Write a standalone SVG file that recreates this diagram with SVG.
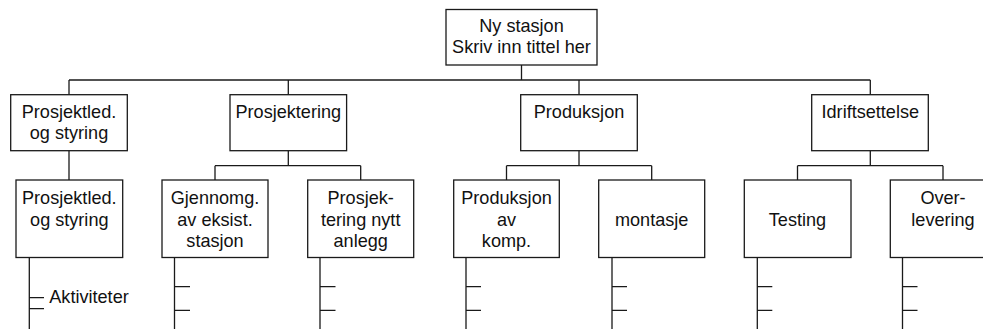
<svg xmlns="http://www.w3.org/2000/svg" width="983" height="329" viewBox="0 0 983 329">
<style>
.box{fill:#fff;stroke:#1a1a1a;stroke-width:1.3}
.ln{fill:none;stroke:#1a1a1a;stroke-width:1.3}
text{font-family:"Liberation Sans",Arial,sans-serif;font-size:18.1px;fill:#111;text-anchor:middle}
.l{text-anchor:start}
</style>
<rect width="983" height="329" fill="#fff"/>
<g id="connectors" class="ln">
<path d="M521.5 65V80M69 80H870.3M69 80V94.7M288.3 80V94.7M579 80V94.7M870.3 80V94.7"/>
<path d="M69 150.7V180"/>
<path d="M288.3 150.7V165.7M215 165.7H360.7M215 165.7V180M360.7 165.7V180"/>
<path d="M579 150.7V165.7M506.5 165.7H651.7M506.5 165.7V180M651.7 165.7V180"/>
<path d="M870.3 150.7V165.7M797.5 165.7H943M797.5 165.7V180M943 165.7V180"/>
<path d="M29.3 257.5V329M29.3 297.7H44M29.3 308.7H44"/>
<path d="M174.5 257.5V329M174.5 286.7H190M174.5 310.3H190"/>
<path d="M320 257.5V329M320 286.7H335.5M320 310.3H335.5"/>
<path d="M466 257.5V329M466 286.7H481M466 310.3H481"/>
<path d="M612 257.5V329M612 286.7H627M612 310.3H627"/>
<path d="M757.3 257.5V329M757.3 286.7H772.3M757.3 310.3H772.3"/>
<path d="M902.5 257.5V329M902.5 286.7H917.5M902.5 310.3H917.5"/>
</g>
<g id="n-top"><rect class="box" x="446" y="9.5" width="151" height="55.5"/><text x="521.5" y="31.7">Ny stasjon</text><text x="521.5" y="53.3">Skriv inn tittel her</text></g>
<g id="n-prosjektled"><rect class="box" x="10.7" y="94.7" width="116.6" height="56"/><text x="69" y="118">Prosjektled.</text><text x="69" y="139.3">og styring</text></g>
<g id="n-prosjektering"><rect class="box" x="230" y="94.7" width="116.6" height="56"/><text x="288.3" y="118">Prosjektering</text></g>
<g id="n-produksjon"><rect class="box" x="520.7" y="94.7" width="116.6" height="56"/><text x="579" y="118">Produksjon</text></g>
<g id="n-idrift"><rect class="box" x="811.7" y="94.7" width="116.6" height="56"/><text x="870.3" y="118">Idriftsettelse</text></g>
<g id="n-prosjektled2"><rect class="box" x="16" y="180" width="106.7" height="77.5"/><text x="69.3" y="204">Prosjektled.</text><text x="69.3" y="225.5">og styring</text></g>
<g id="n-gjennomg"><rect class="box" x="162" y="180" width="106" height="77.5"/><text x="215" y="204">Gjennomg.</text><text x="215" y="225.5">av eksist.</text><text x="215" y="247">stasjon</text></g>
<g id="n-nytt"><rect class="box" x="307.7" y="180" width="106" height="77.5"/><text x="360.7" y="204">Prosjek-</text><text x="360.7" y="225.5">tering nytt</text><text x="360.7" y="247">anlegg</text></g>
<g id="n-komp"><rect class="box" x="453.7" y="180" width="105.6" height="77.5"/><text x="506.5" y="204">Produksjon</text><text x="506.5" y="225.5">av</text><text x="506.5" y="247">komp.</text></g>
<g id="n-montasje"><rect class="box" x="598.7" y="180" width="106" height="77.5"/><text x="651.7" y="225.5">montasje</text></g>
<g id="n-testing"><rect class="box" x="744.3" y="180" width="106.7" height="77.5"/><text x="797.5" y="225.5">Testing</text></g>
<g id="n-overlevering"><rect class="box" x="890.3" y="180" width="106" height="77.5"/><text x="943" y="204">Over-</text><text x="943" y="225.5">levering</text></g>
<g id="activity-label"><text class="l" x="49.3" y="303.3">Aktiviteter</text></g>
</svg>
